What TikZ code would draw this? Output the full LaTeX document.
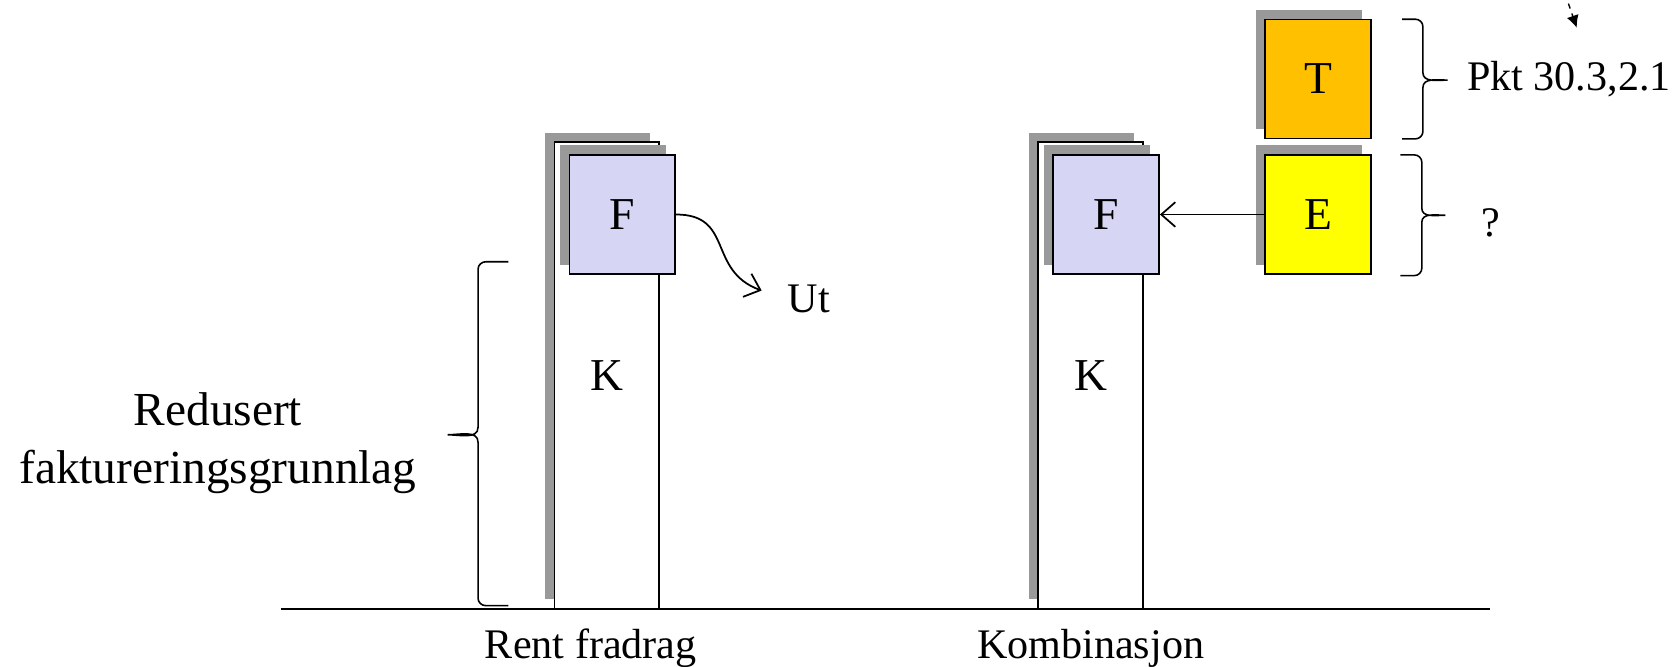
\documentclass[tikz,border=0pt]{standalone}
\usepackage{fontspec}
\setmainfont{Liberation Serif}
\usetikzlibrary{arrows.meta,shadows}
\definecolor{lilac}{RGB}{214,214,244}
\definecolor{amber}{RGB}{255,192,0}
\definecolor{lemon}{RGB}{255,255,0}
\def\px{0.0214cm}
\begin{document}
\begin{tikzpicture}[x=0.0214cm,y=-0.0214cm,
    shade/.style={drop shadow={shadow xshift=-0.19cm,shadow yshift=0.19cm,fill=black!40,opacity=1}},
    bar/.style={draw,line width=1pt,fill=white,shade,minimum width=98*\px,minimum height=437*\px,inner sep=0pt,font=\fontsize{26}{30}\selectfont},
    box/.style={draw,line width=1pt,shade,minimum width=99*\px,minimum height=111.5*\px,inner sep=0pt,font=\fontsize{26}{30}\selectfont},
    lbl/.style={font=\fontsize{24}{29}\selectfont,inner sep=0pt},
    arr/.style={-{Straight Barb[length=8pt,width=14pt]},line width=1pt},
    brc/.style={line width=0.9pt}]
    \useasboundingbox (0,0) rectangle (1568,624);

    \coordinate (g0) at (263,570); \coordinate (g1) at (1395,570);
    \draw[line width=1pt] (g0) -- (g1); % ground line

    % rent fradrag
    \node[bar] (kL) at (568,351.5) {K};
    \node[box,fill=lilac] (fL) at (582.5,200.8) {F};
    \node[lbl,anchor=base] (rent) at (553,616) {Rent fradrag};
    \node[lbl,anchor=base west] (ut) at (737,293) {Ut};
    \coordinate (utend) at (713,272);
    \draw[arr] (fL.east) to[out=0,in=160,looseness=1.3] (utend);

    % kombinasjon
    \node[bar] (kR) at (1021,351.5) {K};
    \node[box,fill=lilac] (fR) at (1035.5,200.8) {F};
    \node[box,fill=amber] (t) at (1234,74) {T};
    \node[box,fill=lemon] (e) at (1234,200.8) {E};
    \draw[arr] (e) -- (fR);
    \node[lbl,anchor=base] (komb) at (1021,616) {Kombinasjon};

    % braces and notes
    \coordinate (bl0) at (476,245); \coordinate (bl1) at (476,567);
    \draw[brc] (bl0) -- (455,245) to[out=180,in=90] (447.5,252) -- (447.5,400)
        to[out=-90,in=0] (419,407) to[out=0,in=90] (447.5,414) -- (447.5,560)
        to[out=-90,in=180] (455,567) -- (bl1);
    \node[align=center,font=\fontsize{27}{33}\selectfont,inner sep=0pt] (red) at (204,415) {Redusert\\faktureringsgrunnlag};

    \coordinate (bt0) at (1312.5,18); \coordinate (bt1) at (1312.5,130);
    \draw[brc] (bt0) -- (1325,18) to[out=0,in=90] (1332,25) -- (1332,68)
        to[out=-90,in=180] (1355,75) to[out=180,in=90] (1332,82) -- (1332,123)
        to[out=-90,in=0] (1325,130) -- (bt1);
    \node[lbl,anchor=west] (pkt) at (1373,74) {Pkt 30.3,2.1};

    \coordinate (be0) at (1311,145); \coordinate (be1) at (1311,258);
    \draw[brc] (be0) -- (1324,145) to[out=0,in=90] (1331,152) -- (1331,195)
        to[out=-90,in=180] (1353,201.5) to[out=180,in=90] (1331,208) -- (1331,251)
        to[out=-90,in=0] (1324,258) -- (be1);
    \node[lbl] (q) at (1396,209) {?};

    \coordinate (top0) at (1465,-6); \coordinate (top1) at (1476,26);
    \draw[dashed,line width=0.8pt,-{Latex[length=7pt,width=7pt]}] (top0) -- (top1);
\end{tikzpicture}
\end{document}
